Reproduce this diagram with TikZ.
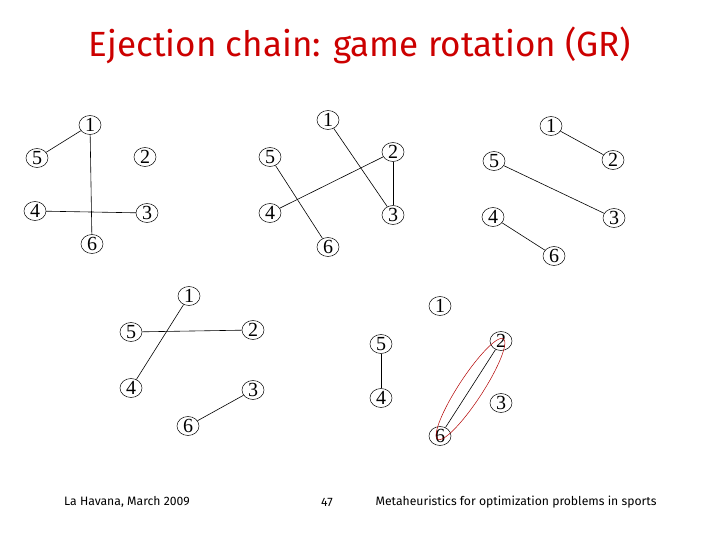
\documentclass[tikz,border=0pt]{standalone}
\usepackage{fontspec}
\setmainfont{Liberation Serif}
\newfontfamily\titlefont{Fira Sans}
\usetikzlibrary{shapes.geometric}
\definecolor{titlered}{RGB}{204,0,0}
\begin{document}
\begin{tikzpicture}[x=1pt,y=-1pt,
  vtx/.style={ellipse,draw,line width=0.5pt,inner sep=0pt,minimum width=22pt,minimum height=19pt,font=\fontsize{20}{20}\selectfont},
  edge/.style={line width=0.6pt},
  foot/.style={font=\titlefont\fontsize{12.2}{12}\selectfont}]
\useasboundingbox (0,0) rectangle (720,540);
\node[font=\titlefont\fontsize{35}{35}\selectfont,text=titlered] (title) at (360,45) {Ejection chain: game rotation (GR)};
% graph 1
\node[vtx] (a1) at (90,125) {1}; \node[vtx] (a5) at (37,158) {5}; \node[vtx] (a2) at (145,157) {2};
\node[vtx] (a4) at (35,211) {4}; \node[vtx] (a3) at (147,213) {3}; \node[vtx] (a6) at (92,244) {6};
\draw[edge] (a1)--(a5); \draw[edge] (a1)--(a6); \draw[edge] (a4)--(a3);
% graph 2
\node[vtx] (b1) at (328,120) {1}; \node[vtx] (b5) at (270,157) {5}; \node[vtx] (b2) at (393,152) {2};
\node[vtx] (b4) at (270,213) {4}; \node[vtx] (b3) at (393,215) {3}; \node[vtx] (b6) at (328,247) {6};
\draw[edge] (b1)--(b3); \draw[edge] (b5)--(b6); \draw[edge] (b4)--(b2); \draw[edge] (b2)--(b3);
% graph 3
\node[vtx] (c1) at (551,126) {1}; \node[vtx] (c5) at (494,161) {5}; \node[vtx] (c2) at (613,160) {2};
\node[vtx] (c4) at (493,217) {4}; \node[vtx] (c3) at (614,218) {3}; \node[vtx] (c6) at (554,256) {6};
\draw[edge] (c1)--(c2); \draw[edge] (c5)--(c3); \draw[edge] (c4)--(c6);
% graph 4
\node[vtx] (d1) at (189,296) {1}; \node[vtx] (d5) at (131,332) {5}; \node[vtx] (d2) at (253,330) {2};
\node[vtx] (d4) at (131,388) {4}; \node[vtx] (d3) at (253,390) {3}; \node[vtx] (d6) at (188,426) {6};
\draw[edge] (d1)--(d4); \draw[edge] (d5)--(d2); \draw[edge] (d6)--(d3);
% graph 5
\node[vtx] (e1) at (440,306) {1}; \node[vtx] (e5) at (381,344) {5}; \node[vtx] (e2) at (501,341) {2};
\node[vtx] (e4) at (381,398) {4}; \node[vtx] (e3) at (501,403) {3}; \node[vtx] (e6) at (440,436) {6};
\draw[edge] (e5)--(e4); \draw[edge] (e2)--(e6);
\draw[red!70!black,line width=0.5pt] (470.5,389) ellipse[x radius=60pt,y radius=12pt,rotate=56.8];
% footer
\node[foot] (f1) at (127,502) {La Havana, March 2009};
\node[foot] (f2) at (327,502) {47};
\node[foot] (f3) at (516,502) {Metaheuristics for optimization problems in sports};
\end{tikzpicture}
\end{document}
